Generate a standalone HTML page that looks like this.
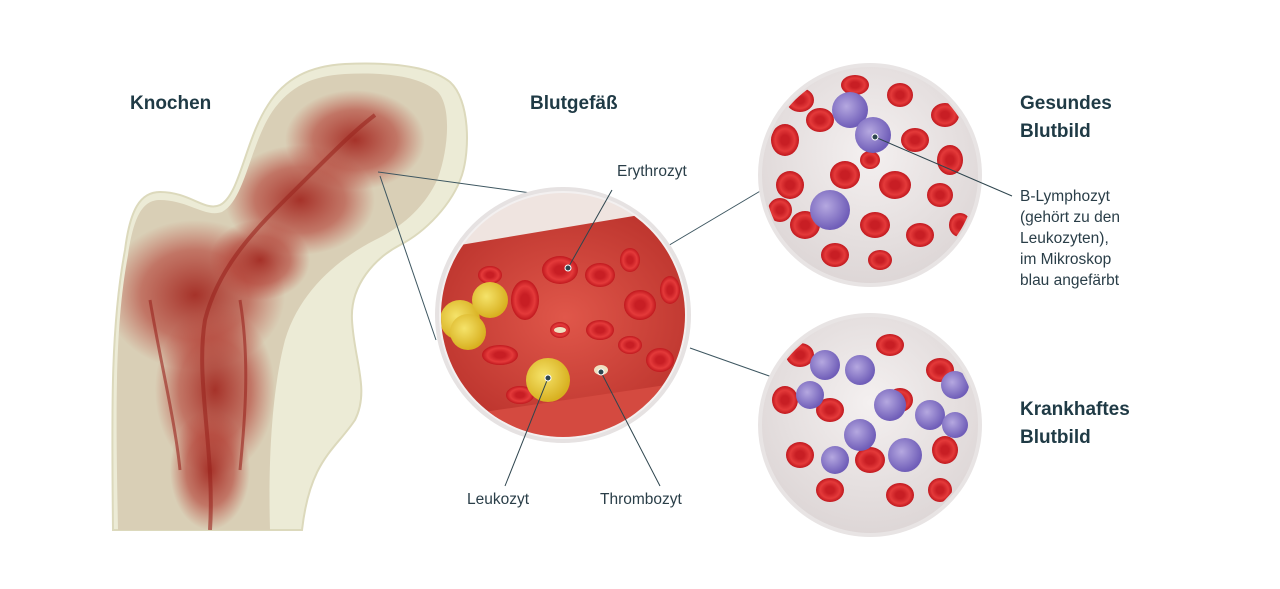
<!DOCTYPE html>
<html><head><meta charset="utf-8"><style>
body{margin:0;background:#fff;width:1280px;height:589px;overflow:hidden;font-family:"Liberation Sans","DejaVu Sans",sans-serif}
svg{position:absolute;left:0;top:0}
.h{font-weight:bold;font-size:19px;fill:#1f3a45}
.s{font-size:15.5px;fill:#2a3e48}
</style></head><body>
<svg width="1280" height="589" viewBox="0 0 1280 589">
<defs>
<radialGradient id="mar" cx="0.5" cy="0.5" r="0.5"><stop offset="0" stop-color="#a32a22" stop-opacity="0.95"/><stop offset="0.6" stop-color="#b23a30" stop-opacity="0.6"/><stop offset="1" stop-color="#b8453a" stop-opacity="0"/></radialGradient>
<radialGradient id="vessel" cx="0.5" cy="0.5" r="0.6"><stop offset="0" stop-color="#e0574a"/><stop offset="1" stop-color="#b8302a"/></radialGradient>
<radialGradient id="wbg" cx="0.5" cy="0.4" r="0.6"><stop offset="0" stop-color="#f4f0f0"/><stop offset="1" stop-color="#ddd6d6"/></radialGradient>
<radialGradient id="rbc" cx="0.5" cy="0.5" r="0.5"><stop offset="0.3" stop-color="#c81e24"/><stop offset="0.7" stop-color="#e43a3a"/><stop offset="1" stop-color="#c0181e"/></radialGradient>
<radialGradient id="leu" cx="0.4" cy="0.4" r="0.6"><stop offset="0" stop-color="#f5e36a"/><stop offset="1" stop-color="#d8b020"/></radialGradient>
<radialGradient id="lym" cx="0.4" cy="0.4" r="0.6"><stop offset="0" stop-color="#b5a8e0"/><stop offset="1" stop-color="#6f5db8"/></radialGradient>
<clipPath id="c1"><circle cx="563" cy="315" r="122"/></clipPath>
<clipPath id="c2"><circle cx="870" cy="175" r="106"/></clipPath>
<clipPath id="c3"><circle cx="870" cy="425" r="106"/></clipPath>
<clipPath id="cut"><path d="M118,530 C116,420 114,330 128,255 C134,215 143,200 160,200 C188,200 205,218 222,212 C245,200 250,145 272,112 C290,86 312,76 345,74 C385,72 420,76 438,92 C452,108 448,150 438,178 C425,208 400,228 375,240 C340,258 300,290 285,340 C272,390 268,460 270,530 Z"/></clipPath>
</defs>

<!-- bone -->
<path d="M113,530 C112,420 110,330 125,250 C130,210 140,192 160,192 C190,192 205,212 220,205 C240,195 245,140 268,105 C285,78 310,66 345,64 C390,62 430,66 450,82 C470,100 470,150 462,175 C452,205 425,232 400,245 C375,258 350,285 352,320 C354,360 370,390 355,420 C335,450 310,460 302,530 Z" fill="#ecebd6" stroke="#dcd9bc" stroke-width="2"/>
<path d="M118,530 C116,420 114,330 128,255 C134,215 143,200 160,200 C188,200 205,218 222,212 C245,200 250,145 272,112 C290,86 312,76 345,74 C385,72 420,76 438,92 C452,108 448,150 438,178 C425,208 400,228 375,240 C340,258 300,290 285,340 C272,390 268,460 270,530 Z" fill="#d9cfb6"/>
<g clip-path="url(#cut)">
<ellipse cx="355" cy="140" rx="70" ry="50" fill="url(#mar)"/>
<ellipse cx="300" cy="200" rx="75" ry="55" fill="url(#mar)"/>
<ellipse cx="195" cy="295" rx="90" ry="75" fill="url(#mar)"/>
<ellipse cx="215" cy="390" rx="60" ry="85" fill="url(#mar)"/>
<ellipse cx="210" cy="470" rx="40" ry="60" fill="url(#mar)"/>
<ellipse cx="260" cy="260" rx="50" ry="40" fill="url(#mar)"/>
<g stroke="#9a241e" fill="none" opacity="0.6">
<path d="M210,530 C215,450 195,380 205,320 C220,260 265,220 305,180 C335,150 355,130 375,115" stroke-width="4"/>
<path d="M180,470 C175,420 160,360 150,300" stroke-width="3"/>
<path d="M240,470 C245,420 250,360 240,300" stroke-width="3"/>
</g>
</g>

<g stroke="#3d5660" stroke-width="1" fill="none">
<line x1="378" y1="172" x2="553" y2="196"/>
<line x1="380" y1="176" x2="436" y2="340"/>
<line x1="666" y1="247" x2="762" y2="190"/>
<line x1="690" y1="348" x2="772" y2="377"/>
</g>

<circle cx="563" cy="315" r="126" fill="#f3f0f0" stroke="#e6e2e2" stroke-width="4"/>
<g clip-path="url(#c1)">
<rect x="430" y="180" width="270" height="270" fill="#efe4e0"/>
<path d="M430,250 L700,205 L700,390 L430,430 Z" fill="url(#vessel)"/>
<path d="M430,420 L700,380 L700,450 L430,450 Z" fill="#d44a40"/>
<g fill="url(#rbc)">
<ellipse cx="560" cy="270" rx="18" ry="14"/><ellipse cx="600" cy="275" rx="15" ry="12"/>
<ellipse cx="525" cy="300" rx="14" ry="20"/><ellipse cx="640" cy="305" rx="16" ry="15"/>
<ellipse cx="600" cy="330" rx="14" ry="10"/><ellipse cx="500" cy="355" rx="18" ry="10"/>
<ellipse cx="660" cy="360" rx="14" ry="12"/><ellipse cx="490" cy="275" rx="12" ry="9"/>
<ellipse cx="630" cy="260" rx="10" ry="12"/><ellipse cx="560" cy="330" rx="10" ry="8"/>
<ellipse cx="630" cy="345" rx="12" ry="9"/><ellipse cx="520" cy="395" rx="14" ry="9"/>
<ellipse cx="670" cy="290" rx="10" ry="14"/>
</g>
<circle cx="460" cy="320" r="20" fill="url(#leu)"/><circle cx="490" cy="300" r="18" fill="url(#leu)"/>
<circle cx="468" cy="332" r="18" fill="url(#leu)"/><circle cx="548" cy="380" r="22" fill="url(#leu)"/>
<ellipse cx="601" cy="370" rx="7" ry="5" fill="#efe0c0"/><ellipse cx="560" cy="330" rx="6" ry="3" fill="#efe0c0"/>
</g>

<circle cx="870" cy="175" r="110" fill="url(#wbg)" stroke="#e8e4e4" stroke-width="4"/>
<g clip-path="url(#c2)" fill="url(#rbc)">
<ellipse cx="800" cy="100" rx="14" ry="12"/><ellipse cx="855" cy="85" rx="14" ry="10"/><ellipse cx="900" cy="95" rx="13" ry="12"/>
<ellipse cx="945" cy="115" rx="14" ry="12"/><ellipse cx="785" cy="140" rx="14" ry="16"/><ellipse cx="820" cy="120" rx="14" ry="12"/>
<ellipse cx="915" cy="140" rx="14" ry="12"/><ellipse cx="950" cy="160" rx="13" ry="15"/><ellipse cx="790" cy="185" rx="14" ry="14"/>
<ellipse cx="845" cy="175" rx="15" ry="14"/><ellipse cx="895" cy="185" rx="16" ry="14"/><ellipse cx="940" cy="195" rx="13" ry="12"/>
<ellipse cx="805" cy="225" rx="15" ry="14"/><ellipse cx="875" cy="225" rx="15" ry="13"/><ellipse cx="920" cy="235" rx="14" ry="12"/>
<ellipse cx="835" cy="255" rx="14" ry="12"/><ellipse cx="780" cy="210" rx="12" ry="12"/>
<ellipse cx="880" cy="260" rx="12" ry="10"/><ellipse cx="960" cy="225" rx="11" ry="12"/><ellipse cx="870" cy="160" rx="10" ry="9"/>
<circle cx="850" cy="110" r="18" fill="url(#lym)"/><circle cx="873" cy="135" r="18" fill="url(#lym)"/><circle cx="830" cy="210" r="20" fill="url(#lym)"/>
</g>

<circle cx="870" cy="425" r="110" fill="url(#wbg)" stroke="#e8e4e4" stroke-width="4"/>
<g clip-path="url(#c3)" fill="url(#rbc)">
<ellipse cx="800" cy="355" rx="14" ry="12"/><ellipse cx="890" cy="345" rx="14" ry="11"/><ellipse cx="940" cy="370" rx="14" ry="12"/>
<ellipse cx="785" cy="400" rx="13" ry="14"/><ellipse cx="830" cy="410" rx="14" ry="12"/><ellipse cx="900" cy="400" rx="13" ry="12"/>
<ellipse cx="800" cy="455" rx="14" ry="13"/><ellipse cx="870" cy="460" rx="15" ry="13"/><ellipse cx="945" cy="450" rx="13" ry="14"/>
<ellipse cx="830" cy="490" rx="14" ry="12"/><ellipse cx="900" cy="495" rx="14" ry="12"/><ellipse cx="940" cy="490" rx="12" ry="12"/>
<circle cx="825" cy="365" r="15" fill="url(#lym)"/><circle cx="860" cy="370" r="15" fill="url(#lym)"/><circle cx="810" cy="395" r="14" fill="url(#lym)"/>
<circle cx="890" cy="405" r="16" fill="url(#lym)"/><circle cx="930" cy="415" r="15" fill="url(#lym)"/><circle cx="955" cy="385" r="14" fill="url(#lym)"/>
<circle cx="860" cy="435" r="16" fill="url(#lym)"/><circle cx="905" cy="455" r="17" fill="url(#lym)"/><circle cx="835" cy="460" r="14" fill="url(#lym)"/>
<circle cx="955" cy="425" r="13" fill="url(#lym)"/>
</g>

<g stroke="#2e454e" stroke-width="1" fill="none">
<line x1="568" y1="268" x2="612" y2="190"/>
<line x1="548" y1="378" x2="505" y2="486"/>
<line x1="601" y1="372" x2="660" y2="486"/>
<line x1="875" y1="137" x2="1012" y2="196"/>
</g>
<g fill="#2e454e" stroke="#fff" stroke-width="1">
<circle cx="568" cy="268" r="3"/><circle cx="548" cy="378" r="3"/><circle cx="601" cy="372" r="3"/><circle cx="875" cy="137" r="3"/>
</g>

<text class="h" x="130" y="109">Knochen</text>
<text class="h" x="530" y="109">Blutgefäß</text>
<text class="h" x="1020" y="109">Gesundes</text>
<text class="h" x="1020" y="137">Blutbild</text>
<text class="h" x="1020" y="415">Krankhaftes</text>
<text class="h" x="1020" y="443">Blutbild</text>
<text class="s" x="617" y="176">Erythrozyt</text>
<text class="s" x="467" y="504">Leukozyt</text>
<text class="s" x="600" y="504">Thrombozyt</text>
<text class="s" x="1020" y="201">B-Lymphozyt</text>
<text class="s" x="1020" y="222">(gehört zu den</text>
<text class="s" x="1020" y="243">Leukozyten),</text>
<text class="s" x="1020" y="264">im Mikroskop</text>
<text class="s" x="1020" y="285">blau angefärbt</text>
</svg>
</body></html>
